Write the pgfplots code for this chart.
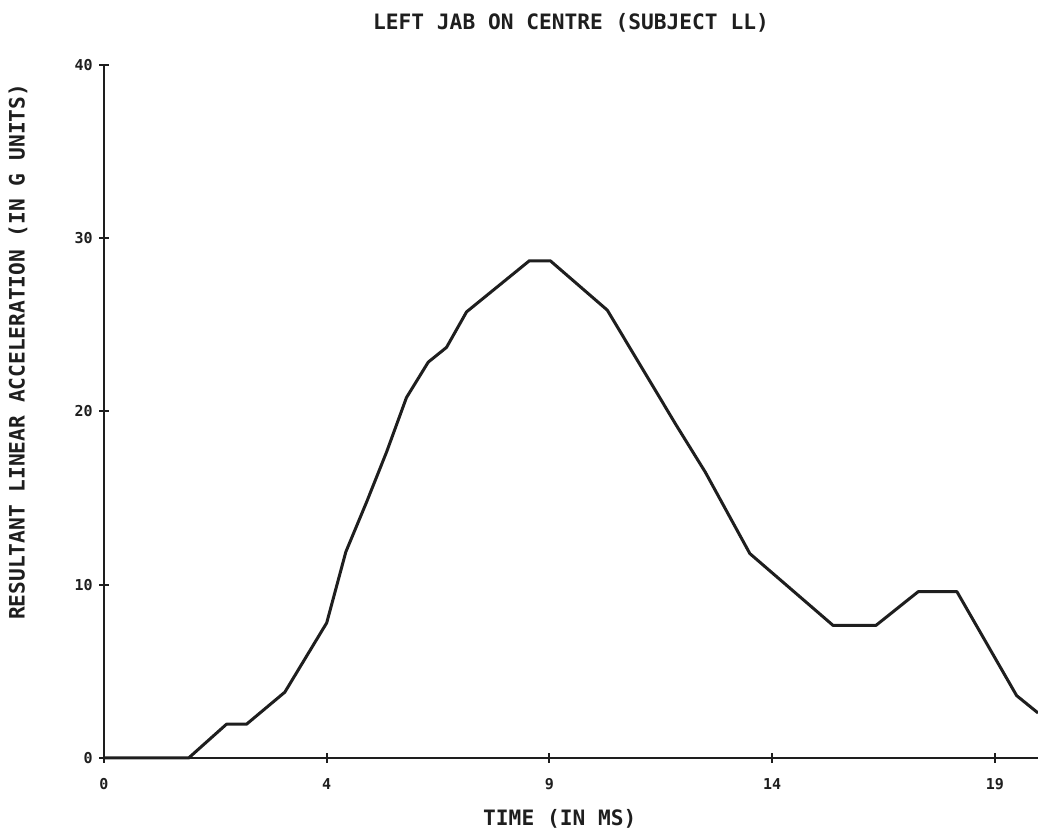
\documentclass[border=0pt]{standalone}
\usepackage{pgfplots}
\pgfplotsset{compat=1.18}
\usepackage{fontspec}
\newfontfamily\plotfont{DejaVu Sans Mono}
\definecolor{ink}{RGB}{30,30,30}

\begin{document}
\begin{tikzpicture}
\useasboundingbox (0,0) rectangle (519pt,419.5pt);
\begin{axis}[
  at={(52pt,40.5pt)}, anchor=south west,
  scale only axis, width=467pt, height=346.5pt,
  xmin=0, xmax=20.97, ymin=0, ymax=40,
  axis x line*=bottom, axis y line*=left,
  axis line style={-, line width=1.3pt, draw=ink},
  clip=false,
  xtick={0,5,10,15,20}, xticklabels={0,4,9,14,19},
  ytick={0,10,20,30,40}, yticklabels={0,10,20,30,40},
  tick align=center, major tick length=5pt,
  tick style={line width=1pt, draw=ink},
  tick label style={font=\plotfont\bfseries\fontsize{7.5}{8}\selectfont, text=ink},
  xticklabel style={anchor=base, yshift=-13.5pt},
  yticklabel style={anchor=east, inner sep=3pt},
  title={LEFT JAB ON CENTRE  (SUBJECT LL)},
  title style={at={(axis description cs:0.5,1.0332)}, anchor=base,
               font=\plotfont\bfseries\fontsize{10.6}{12}\selectfont, text=ink},
  xlabel={TIME (IN MS)},
  xlabel style={at={(axis description cs:0.488,-0.0981)}, anchor=base,
                font=\plotfont\bfseries\fontsize{10.6}{12}\selectfont, text=ink},
  ylabel={RESULTANT LINEAR ACCELERATION (IN G UNITS)},
  ylabel style={at={(axis description cs:-0.0921,0.586)}, anchor=center,
                font=\plotfont\bfseries\fontsize{10.6}{12}\selectfont, text=ink},
]
\addplot[line width=1.5pt, draw=ink, line join=round] coordinates {
  (0,0) (1.9,0) (2.75,1.95) (3.2,1.95) (4.06,3.8) (4.53,5.8) (5.0,7.8)
  (5.43,11.9) (5.9,14.8) (6.35,17.7) (6.79,20.8) (7.28,22.85) (7.69,23.7)
  (8.14,25.75) (9.55,28.7) (10.02,28.7) (11.3,25.85) (12.85,19.2)
  (13.5,16.5) (14.5,11.8) (16.37,7.65) (17.33,7.65) (18.28,9.6)
  (19.15,9.6) (20.49,3.6) (20.97,2.6)
};
\end{axis}
\end{tikzpicture}
\end{document}
